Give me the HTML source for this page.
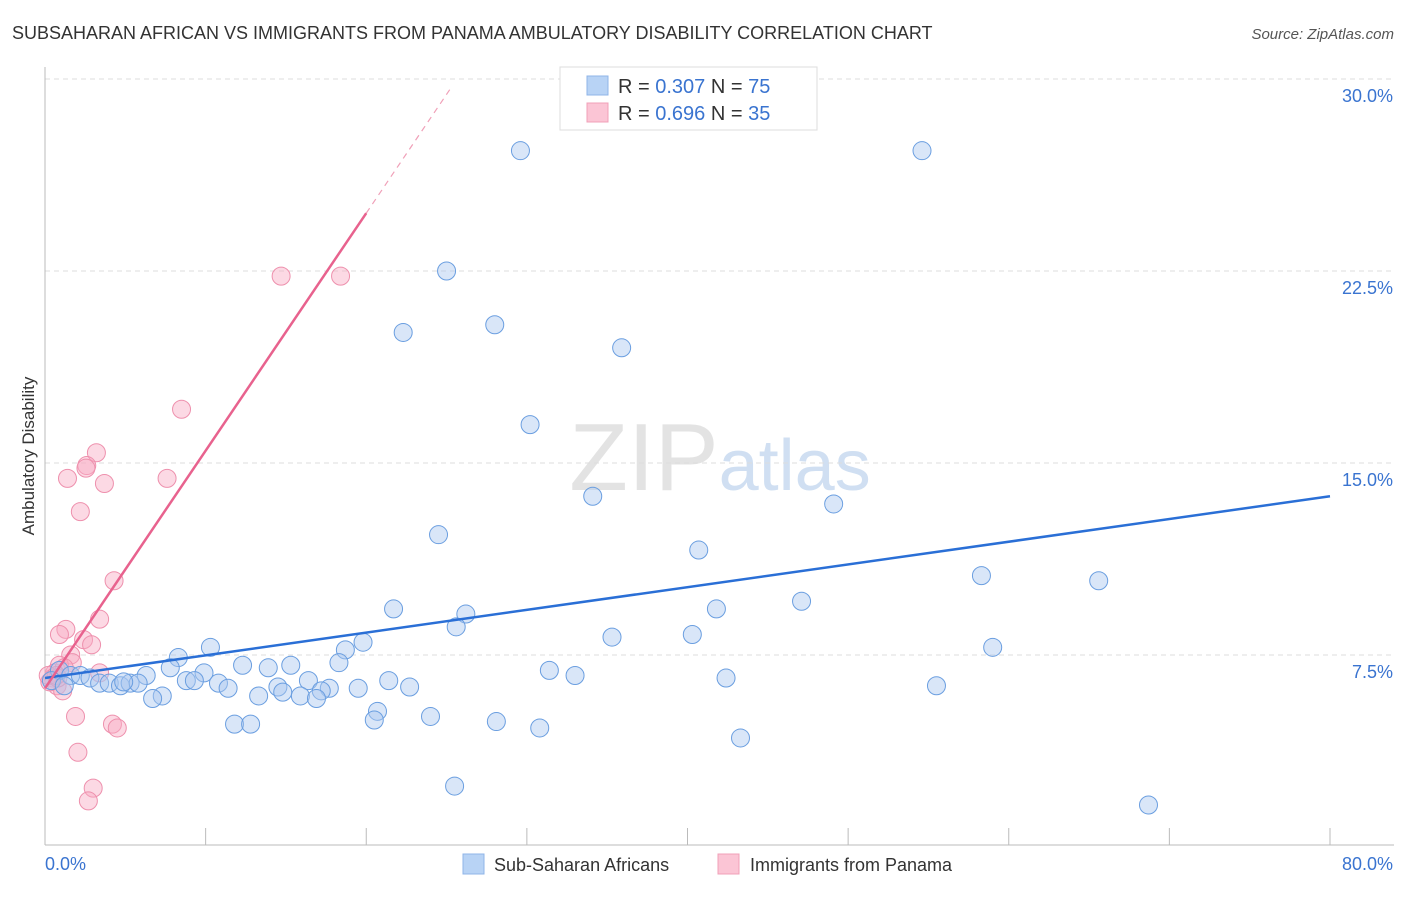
<!DOCTYPE html>
<html><head><meta charset="utf-8"><style>
body{margin:0;background:#fff;font-family:"Liberation Sans",sans-serif;}
svg text{font-family:"Liberation Sans",sans-serif;}
</style></head><body>
<svg id="chart" width="1406" height="892" viewBox="0 0 1406 892" xmlns="http://www.w3.org/2000/svg">
<text x="12" y="39" font-size="18" fill="#333">SUBSAHARAN AFRICAN VS IMMIGRANTS FROM PANAMA AMBULATORY DISABILITY CORRELATION CHART</text>
<text x="1394" y="39" font-size="15" fill="#555" font-style="italic" text-anchor="end">Source: ZipAtlas.com</text>
<text x="720" y="490" font-size="96" text-anchor="middle" fill="#ddd" font-family="Liberation Serif" opacity="0.8">ZIP<tspan fill="#c5d8ef" font-family="Liberation Sans" font-size="72">atlas</tspan></text>
<g id="grid"></g><g id="axes"></g><g id="pink"></g><g id="blue"></g><g id="lines"></g>
<text transform="translate(34,456) rotate(-90)" font-size="17" fill="#333" text-anchor="middle">Ambulatory Disability</text>
<g>
<rect x="560" y="67" width="257" height="63" fill="#fff" stroke="#ddd"/>
<rect x="587" y="76" width="21" height="19" fill="#b8d3f5" stroke="#8fb5e8"/>
<rect x="587" y="103" width="21" height="19" fill="#fbc5d5" stroke="#f0a0b8"/>
<text x="618" y="93" font-size="20" fill="#333">R = <tspan fill="#3a74d0">0.307</tspan>   N = <tspan fill="#3a74d0">75</tspan></text>
<text x="618" y="120" font-size="20" fill="#333">R = <tspan fill="#3a74d0">0.696</tspan>   N = <tspan fill="#3a74d0">35</tspan></text>
</g>
<g><rect x="463" y="854" width="21" height="20" fill="#b8d3f5" stroke="#8fb5e8"/><text x="494" y="871" font-size="18" fill="#333">Sub-Saharan Africans</text></g>
<g><rect x="718" y="854" width="21" height="20" fill="#fbc5d5" stroke="#f0a0b8"/><text x="750" y="871" font-size="18" fill="#333">Immigrants from Panama</text></g>
</svg>
<script>
const yTicks=[7.5,15,22.5,30];
const yTickLabels=["7.5%","15.0%","22.5%","30.0%"];
const xTickLabels=["0.0%","80.0%"];
const blueX=[29.6,54.6,25.0,22.3,28.0,35.9,30.2,34.1,49.1,24.5,40.7,58.3,65.6,21.7,26.2,25.6,41.8,47.1,35.3,40.3,19.8,10.3,59.0,8.3,18.7,18.3,7.8,12.3,13.9,15.3,9.9,6.3,31.4,33.0,42.4,21.4,16.4,8.8,9.3,10.8,11.4,14.5,22.7,19.5,17.7,17.2,14.8,15.9,16.9,13.3,7.3,6.7,55.5,20.7,20.5,24.0,28.1,30.8,11.8,12.8,43.3,25.5,68.7,0.9,1.6,2.2,2.8,3.4,4.0,4.7,5.3,5.8,4.9,0.4,1.2];
const blueY=[27.2,27.2,22.5,20.1,20.4,19.5,16.5,13.7,13.4,12.2,11.6,10.6,10.4,9.3,9.1,8.6,9.3,9.6,8.2,8.3,8.0,7.8,7.8,7.4,7.7,7.2,7.0,7.1,7.0,7.1,6.8,6.7,6.9,6.7,6.6,6.5,6.5,6.5,6.5,6.4,6.2,6.25,6.25,6.2,6.2,6.1,6.05,5.9,5.8,5.9,5.9,5.8,6.3,5.3,4.96,5.1,4.9,4.65,4.8,4.8,4.26,2.38,1.64,6.9,6.7,6.7,6.6,6.4,6.4,6.3,6.4,6.4,6.45,6.5,6.3];
const pinkX=[14.7,18.4,8.5,3.2,2.6,2.55,1.4,3.7,7.6,2.2,4.3,3.4,1.3,0.9,2.4,2.9,1.6,1.7,3.4,0.9,0.6,0.5,0.75,1.1,1.9,2.05,4.2,4.5,3.0,2.7,0.3,0.2,1.2,0.8,0.7];
const pinkY=[22.3,22.3,17.1,15.4,14.9,14.8,14.4,14.2,14.4,13.1,10.4,8.9,8.5,8.3,8.1,7.9,7.5,7.2,6.8,7.1,6.8,6.6,6.3,6.1,5.1,3.7,4.8,4.65,2.3,1.8,6.45,6.7,7.0,6.6,6.7];
const blueTrend=[6.6,13.7];
const pinkTrend=[6.2,0.928];
const NS="http://www.w3.org/2000/svg";
const X0=45,X1=1330,Y0=847,YTOP=79;
const xs=v=>X0+(X1-X0)*v/80;
const ys=v=>Y0-(Y0-YTOP)*v/30;
function mk(tag,attrs,parent){const e=document.createElementNS(NS,tag);for(const k in attrs)e.setAttribute(k,attrs[k]);document.getElementById(parent).appendChild(e);return e;}
yTicks.forEach((t,i)=>{
 const g=mk('line',{x1:X0,x2:1394,y1:ys(t),y2:ys(t),stroke:'#ddd','stroke-dasharray':'5,4'},'grid');
 
 
 const l=mk('text',{x:1393,y:ys(t)+23,'font-size':18,fill:'#3a74d0','text-anchor':'end'},'grid');
 l.textContent=yTickLabels[i];
 
 
});
const ax=mk('line',{x1:X0,x2:X0,y1:67,y2:845,stroke:'#bbb'},'axes');


const bx=mk('line',{x1:X0,x2:1394,y1:845,y2:845,stroke:'#bbb'},'axes');


for(let v=10;v<=80;v+=10){const t=mk('line',{x1:xs(v),x2:xs(v),y1:828,y2:845,stroke:'#bbb'},'axes');
 
 }
const xl0=mk('text',{x:45,y:870,'font-size':18,fill:'#3a74d0'},'axes');xl0.textContent=xTickLabels[0];


const xl1=mk('text',{x:1393,y:870,'font-size':18,fill:'#3a74d0','text-anchor':'end'},'axes');xl1.textContent=xTickLabels[1];


pinkX.forEach((x,i)=>{const c=mk('circle',{cx:xs(x),cy:ys(pinkY[i]),r:9,fill:'rgba(248,170,195,0.45)',stroke:'#ee90ad','stroke-width':1},'pink');
 
 });
blueX.forEach((x,i)=>{const c=mk('circle',{cx:xs(x),cy:ys(blueY[i]),r:9,fill:'rgba(170,200,240,0.45)',stroke:'#6a9ee0','stroke-width':1},'blue');
 
 });
const bl=mk('line',{x1:xs(0),y1:ys(blueTrend[0]),x2:xs(80),y2:ys(blueTrend[1]),stroke:'#2a6fd6','stroke-width':2.5},'lines');


const pl=mk('line',{x1:xs(0),y1:ys(pinkTrend[0]),x2:xs(20),y2:ys(pinkTrend[0]+pinkTrend[1]*20),stroke:'#e8628e','stroke-width':2.5},'lines');


const pd=mk('line',{x1:xs(20),y1:ys(pinkTrend[0]+pinkTrend[1]*20),x2:xs(25.3),y2:ys(pinkTrend[0]+pinkTrend[1]*25.3),stroke:'#f0a0b8','stroke-width':1.2,'stroke-dasharray':'6,5'},'lines');


</script>
</body></html>
